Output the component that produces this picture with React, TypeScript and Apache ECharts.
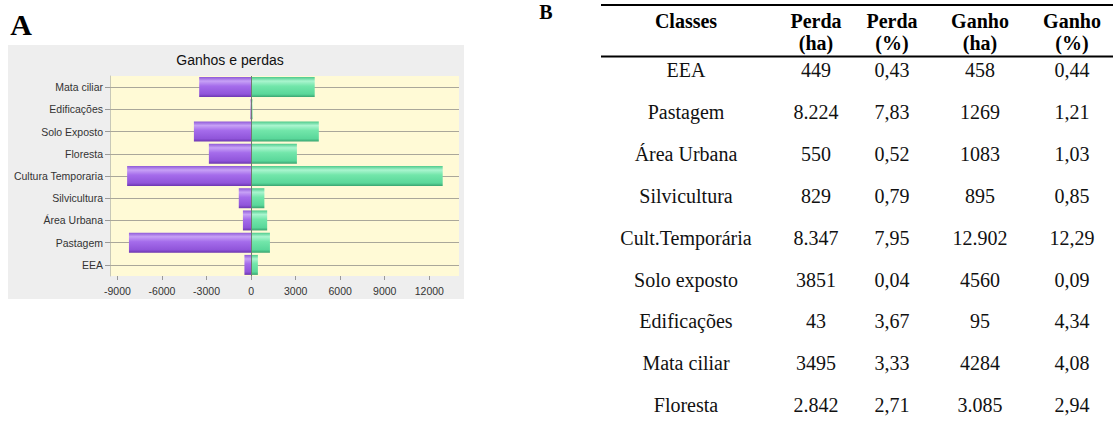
import React, { useEffect, useRef } from "react";
import * as echarts from "echarts";

// ---- Chart A data ----
const categories = ["EEA", "Pastagem", "Área Urbana", "Silvicultura", "Cultura Temporaria", "Floresta", "Solo Exposto", "Edificações", "Mata ciliar"];
const losses = [-449, -8224, -550, -829, -8347, -2842, -3851, -43, -3495];
const gains = [458, 1269, 1083, 895, 12902, 3085, 4560, 95, 4284];
const xTicks = [-9000, -6000, -3000, 0, 3000, 6000, 9000, 12000];
const chartTitle = "Ganhos e perdas";

// ---- Table B data ----
const headerTop = ["Classes", "Perda", "Perda", "Ganho", "Ganho"];
const headerBottom = ["", "(ha)", "(%)", "(ha)", "(%)"];
const tableClasses = ["EEA", "Pastagem", "Área Urbana", "Silvicultura", "Cult.Temporária", "Solo exposto", "Edificações", "Mata ciliar", "Floresta"];
const perdaHa = ["449", "8.224", "550", "829", "8.347", "3851", "43", "3495", "2.842"];
const perdaPct = ["0,43", "7,83", "0,52", "0,79", "7,95", "0,04", "3,67", "3,33", "2,71"];
const ganhoHa = ["458", "1269", "1083", "895", "12.902", "4560", "95", "4284", "3.085"];
const ganhoPct = ["0,44", "1,21", "1,03", "0,85", "12,29", "0,09", "4,34", "4,08", "2,94"];

const SERIF = "Liberation Serif";
const SANS = "Liberation Sans";

function grad(c0: string, c1: string, c2: string, c3: string, c4: string) {
  return new echarts.graphic.LinearGradient(0, 0, 0, 1, [
    { offset: 0, color: c0 },
    { offset: 0.2, color: c1 },
    { offset: 0.45, color: c2 },
    { offset: 0.85, color: c3 },
    { offset: 1, color: c4 },
  ]);
}

export default function App() {
  const ref = useRef<HTMLDivElement>(null);
  useEffect(() => {
    if (!ref.current) return;
    const chart = echarts.init(ref.current, undefined, { renderer: "svg" });

    const colX = [686, 816, 892, 980, 1072];
    const rowY0 = 70;
    const rowStep = 41.9;
    const tableCols = [tableClasses, perdaHa, perdaPct, ganhoHa, ganhoPct];

    const txt = (x: number, y: number, text: string, size: number, weight: string, family: string, fill = "#000") => ({
      type: "text",
      x,
      y,
      style: {
        text,
        fontSize: size,
        fontWeight: weight,
        fontStyle: "normal",
        fontFamily: family,
        fill,
        align: "center",
        verticalAlign: "middle",
      },
    });

    const graphics: any[] = [];
    graphics.push({
      type: "rect",
      z: -10,
      shape: { x: 8, y: 45, width: 456, height: 254 },
      style: { fill: "#eeeeee" },
      silent: true,
    });
    graphics.push(txt(230, 60, chartTitle, 14, "normal", SANS, "#111"));
    graphics.push(txt(21, 24, "A", 30, "bold", SERIF));
    graphics.push(txt(546, 12, "B", 20, "bold", SERIF));
    graphics.push({ type: "line", shape: { x1: 601, y1: 5, x2: 1113, y2: 5 }, style: { stroke: "#000", lineWidth: 2 } });
    graphics.push({ type: "line", shape: { x1: 601, y1: 56.5, x2: 1113, y2: 56.5 }, style: { stroke: "#000", lineWidth: 2 } });
    headerTop.forEach((t, i) => {
      graphics.push(txt(colX[i], 21, t, 20, "bold", SERIF));
    });
    headerBottom.forEach((t, i) => {
      if (!t) return;
      graphics.push(txt(colX[i], 43, t, 20, "bold", SERIF));
    });
    tableCols.forEach((col, ci) => {
      col.forEach((t, ri) => {
        graphics.push(txt(colX[ci], rowY0 + ri * rowStep, t, 20, "normal", SERIF, "#111"));
      });
    });

    const purple = grad("#8f5ad8", "#c7a1f6", "#a56ceb", "#9055da", "#6c36b0");
    const green = grad("#4fcb8c", "#aaf5cf", "#72e6aa", "#5ad79a", "#39a470");

    chart.setOption({
      animation: false,
      grid: {
        left: 110,
        top: 76,
        width: 349,
        height: 200,
        show: true,
        backgroundColor: "#fffad6",
        borderWidth: 0,
        containLabel: false,
      },
      xAxis: {
        type: "value",
        min: -9500,
        max: 14000,
        splitLine: { show: false },
        axisLine: { show: false },
        axisTick: { show: true, customValues: xTicks, length: 4, lineStyle: { color: "#999" } },
        axisLabel: {
          customValues: xTicks,
          formatter: (v: number) => String(v),
          margin: 9,
          fontSize: 10.5,
          fontFamily: "Liberation Sans Narrow, Liberation Sans, sans-serif",
          color: "#333",
        },
      },
      yAxis: {
        type: "category",
        data: categories,
        axisLine: { show: true, onZero: false, lineStyle: { color: "#c8c8b8" } },
        axisTick: { show: true, alignWithLabel: true, length: 5, lineStyle: { color: "#999" } },
        axisLabel: { margin: 7, fontSize: 10.5, fontFamily: SANS, color: "#333" },
        splitLine: { show: false },
      },
      series: [
        {
          name: "Perda",
          type: "bar",
          stack: "t",
          barWidth: 20,
          data: losses,
          itemStyle: { color: purple },
          markLine: {
            z: 3,
            silent: true,
            symbol: "none",
            label: { show: false },
            lineStyle: { color: "#6f7a70", width: 1, type: "solid" },
            data: [{ xAxis: 0 }],
          },
        },
        {
          name: "Ganho",
          type: "bar",
          stack: "t",
          barWidth: 20,
          data: gains,
          itemStyle: { color: green },
          markLine: {
            z: 1,
            silent: true,
            symbol: "none",
            label: { show: false },
            lineStyle: { color: "#aaa79a", width: 1, type: "solid" },
            data: categories.map((c) => ({ yAxis: c })),
          },
        },
      ],
      graphic: graphics,
    });
    return () => chart.dispose();
  }, []);
  return <div ref={ref} style={{ position: "fixed", left: 0, top: 0, width: 1116, height: 432, background: "#fff" }} />;
}
